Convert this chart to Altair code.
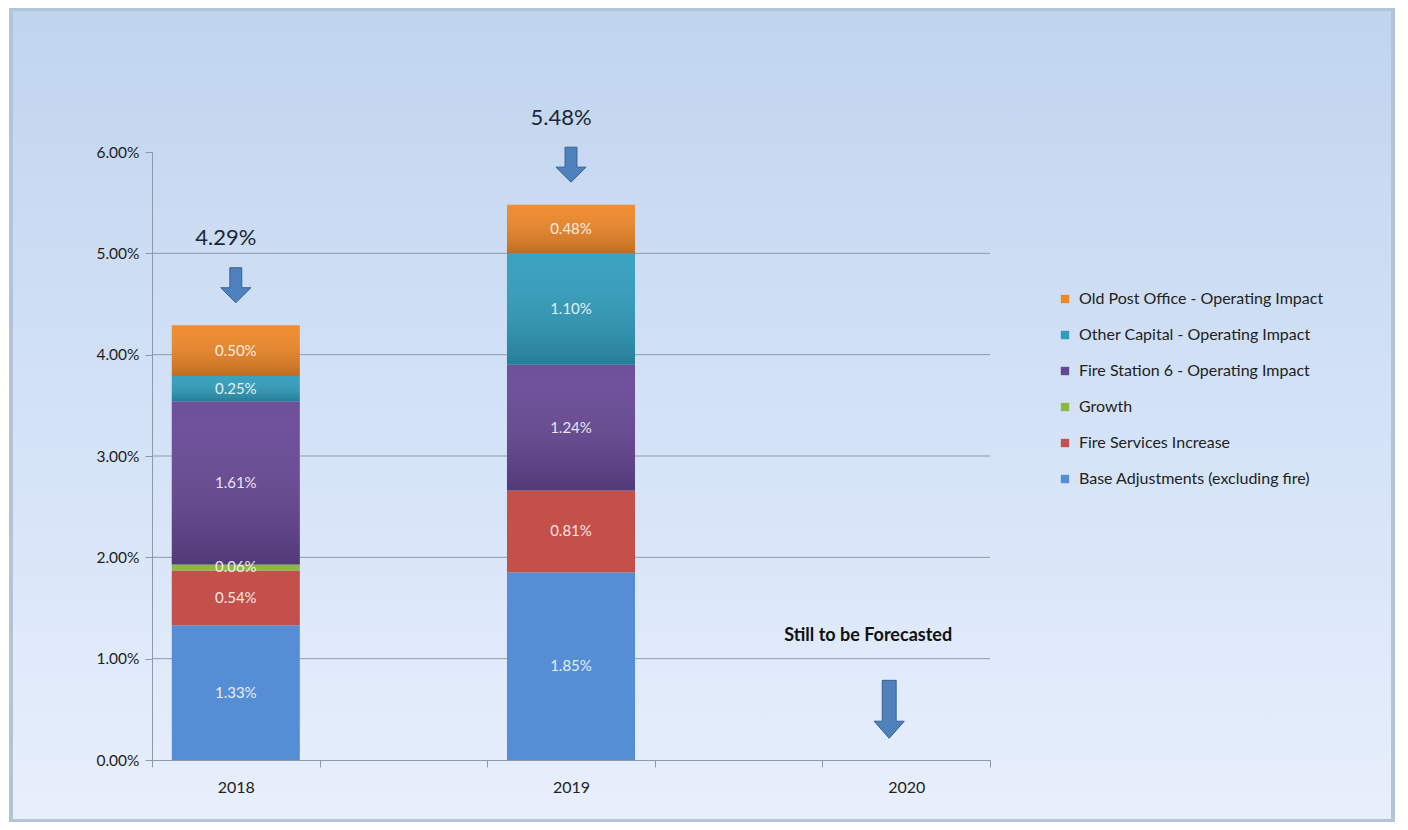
import altair as alt
import pandas as pd

# ---- data ----
years = ["2018", "2019"]
series = [
    "Base Adjustments (excluding fire)",
    "Fire Services Increase",
    "Growth",
    "Fire Station 6 - Operating Impact",
    "Other Capital - Operating Impact",
    "Old Post Office - Operating Impact",
]
colors = ["#558ed5", "#c3504b", "#8cb845", "#664795", "#2f9dbc", "#ef8727"]
vals_2018 = [1.33, 0.54, 0.06, 1.61, 0.25, 0.50]
vals_2019 = [1.85, 0.81, 0.00, 1.24, 1.10, 0.48]
x_domain = ["2018", " ", "2019", "  ", "2020"]
y_ticks = [0, 1, 2, 3, 4, 5, 6]
grid_vals = [1, 2, 3, 4, 5]
forecast_year = ["2020"]
forecast_text = ["Still to be Forecasted"]
forecast_text_y = [1.22]
forecast_arrow_y = [0.50]

rows = []
for yr, vals in zip(years, [vals_2018, vals_2019]):
    for i, (s, v) in enumerate(zip(series, vals)):
        rows.append({"year": yr, "series": s, "value": v, "idx": i})
df = pd.DataFrame(rows)
tot = pd.DataFrame({
    "year": years,
    "total": [round(sum(vals_2018), 2), round(sum(vals_2019), 2)],
})
tot["label"] = tot["total"].map(lambda v: f"{v:.2f}%")
fc = pd.DataFrame({"year": forecast_year, "text": forecast_text,
                   "ty": forecast_text_y, "ay": forecast_arrow_y})

legend_order = series[::-1]
legend_colors = colors[::-1]

W, H = 838, 608
PL, PT, PR, PB = 144, 144, 410, 62
BAND = 0.764

FONT = "Lato"
AX = "#8d99a9"

xscale = alt.Scale(domain=x_domain, paddingInner=0, paddingOuter=0)
yscale = alt.Scale(domain=[0, 6], nice=False)

x_axis = alt.Axis(title=None, labelAngle=0, tickBand="extent", tickSize=7,
                  domainColor=AX, tickColor=AX, labelFontSize=16,
                  labelColor="#222222", labelPadding=12, labelFont=FONT, zindex=1)
y_axis = alt.Axis(title=None, values=y_ticks, grid=False, tickSize=7,
                  domainColor=AX, tickColor=AX, labelFontSize=15.5,
                  labelColor="#1e1e1e", labelPadding=6, labelFont=FONT, zindex=1,
                  labelExpr="format(datum.value, '.2f') + '%'")


def X():
    return alt.X("year:N", scale=xscale, sort=x_domain, axis=x_axis)


def Y(field, **kw):
    return alt.Y(field, scale=yscale, axis=y_axis, **kw)


bg = alt.Chart(pd.DataFrame({"a": [0]})).mark_rect(
    color=alt.Gradient(gradient="linear", x1=0, x2=0, y1=0, y2=1,
                       stops=[alt.GradientStop(color="#c1d4ee", offset=0),
                              alt.GradientStop(color="#d3e2f7", offset=0.5),
                              alt.GradientStop(color="#e8effc", offset=1)]),
    stroke="#b3c4da", strokeWidth=4,
).encode(x=alt.value(-PL + 3), x2=alt.value(W + PR - 7),
         y=alt.value(-PT + 1), y2=alt.value(H + PB - 1))

grid = alt.Chart(pd.DataFrame({"v": grid_vals})).mark_rule(color="#8f9aab", strokeWidth=1).encode(
    y=Y("v:Q"), x=alt.value(0), x2=alt.value(W))

bars = alt.Chart(df).mark_bar(width={"band": BAND}).encode(
    x=X(),
    y=Y("value:Q", stack="zero"),
    color=alt.Color("series:N", scale=alt.Scale(domain=legend_order, range=legend_colors),
                    legend=alt.Legend(title=None, orient="none", legendX=905, legendY=139,
                                      symbolType="square", symbolSize=70, symbolStrokeWidth=0,
                                      labelFontSize=16, labelFont=FONT, labelColor="#222222",
                                      rowPadding=20, labelLimit=400, labelOffset=6)),
    order=alt.Order("idx:Q", sort="ascending"),
)

stacked = alt.Chart(df).transform_stack(
    stack="value", as_=["y0", "y1"], groupby=["year"],
    sort=[alt.SortField("idx", order="ascending")]
)

shade = stacked.transform_filter("datum.idx >= 3").mark_bar(
    width={"band": BAND},
    fill=alt.Gradient(gradient="linear", x1=0, x2=0, y1=0, y2=1,
                      stops=[alt.GradientStop(color="rgba(255,255,255,0.05)", offset=0),
                             alt.GradientStop(color="rgba(0,0,0,0.2)", offset=1)])
).encode(x=X(), y=Y("y1:Q"), y2="y0:Q")

seg_labels = stacked.transform_filter("datum.value > 0").transform_calculate(
    mid="(datum.y0 + datum.y1) / 2",
    lab="format(datum.value, '.2f') + '%'"
).mark_text(font=FONT, fontSize=15, color="#ffffff", opacity=0.85, baseline="middle").encode(
    x=X(), y=Y("mid:Q"), text="lab:N")

tot_text = alt.Chart(tot).mark_text(font=FONT, fontSize=22, color="#1d2733", dy=-87, dx=-10,
                                    baseline="middle").encode(
    x=X(), y=Y("total:Q"), text="label:N")

arrow_small = "M-0.34,-1L0.34,-1L0.34,0.14L0.86,0.14L0,1L-0.86,0.14L-0.34,0.14Z"
arrow_tall = "M-0.24,-1L0.24,-1L0.24,0.41L0.52,0.41L0,1L-0.52,0.41L-0.24,0.41Z"

arrows = alt.Chart(tot).mark_point(shape=arrow_small, filled=True, fill="#4f81bd",
                                   stroke="#37618f", strokeWidth=1, opacity=1,
                                   size=1225, yOffset=-40).encode(
    x=X(), y=Y("total:Q"))

fc_text = alt.Chart(fc).mark_text(font=FONT, fontSize=18, fontWeight="bold", color="#111111",
                                  dx=-38, baseline="middle").encode(
    x=X(), y=Y("ty:Q"), text="text:N")

fc_arrow = alt.Chart(fc).mark_point(shape=arrow_tall, filled=True, fill="#4f81bd",
                                    stroke="#37618f", strokeWidth=1, opacity=1,
                                    size=3364, xOffset=-17).encode(
    x=X(), y=Y("ay:Q"))

chart = alt.layer(bg, grid, bars, shade, seg_labels, tot_text, arrows, fc_text, fc_arrow).properties(
    width=W, height=H,
    autosize=alt.AutoSizeParams(type="none"),
    padding={"left": PL, "top": PT, "right": PR, "bottom": PB},
).configure_view(stroke=None).configure(background="#ffffff")

chart.save("out.html", embed_options={"renderer": "svg", "actions": False})
